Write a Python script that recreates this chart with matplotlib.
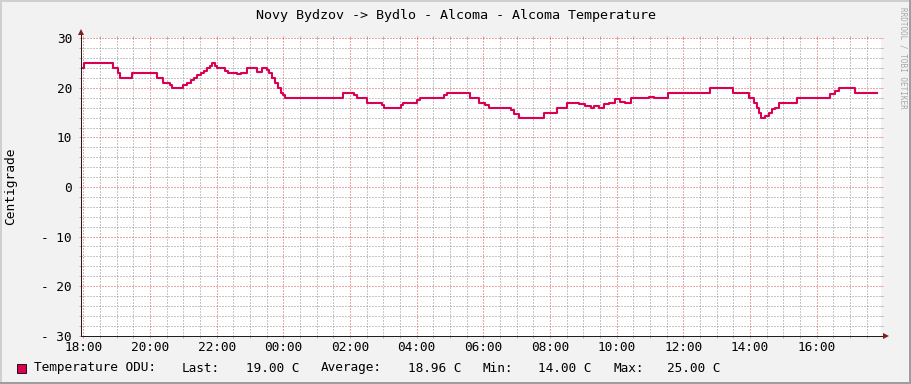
import matplotlib
matplotlib.use('Agg')
import matplotlib.pyplot as plt
from matplotlib.patches import Rectangle
from matplotlib.ticker import MultipleLocator, FixedLocator

# step changes of the temperature, hours after 18:00 -> value in C
hours = [-0.06, 0.02, 0.90, 1.04, 1.10, 1.46, 2.22, 2.39, 2.59, 2.67,
         2.99, 3.12, 3.24, 3.32, 3.42, 3.52, 3.62, 3.72, 3.80, 3.86,
         3.94, 4.00, 4.24, 4.34, 4.62, 4.74, 4.92, 5.20, 5.36, 5.52,
         5.58, 5.66, 5.76, 5.84, 5.92, 5.98, 6.06, 7.80, 8.12, 8.20,
         8.52, 8.96, 9.02, 9.52, 9.60, 10.02, 10.10, 10.82, 10.90, 11.60,
         11.86, 12.04, 12.16, 12.82, 12.92, 13.06, 13.82, 14.22, 14.52, 14.86,
         15.06, 15.22, 15.32, 15.46, 15.62, 15.76, 15.96, 16.10, 16.26, 16.42,
         16.96, 17.12, 17.54, 18.80, 19.50, 19.96, 20.12, 20.20, 20.26, 20.32,
         20.46, 20.56, 20.66, 20.76, 20.86, 21.40, 22.40, 22.56, 22.66, 23.16,
         23.80]
temps = [24, 25, 24, 23, 22, 23, 22, 21, 20.5, 20,
         20.5, 21, 21.5, 22, 22.5, 23, 23.5, 24, 24.5, 25,
         24.5, 24, 23.5, 23, 22.7, 23, 24, 23.3, 24, 23.7,
         23, 22, 21, 20, 19, 18.5, 18, 19, 18.5, 18,
         17, 16.5, 16, 16.5, 17, 17.5, 18, 18.5, 19, 18,
         17, 16.6, 16, 15.5, 14.7, 14, 15, 16, 17, 16.7,
         16.3, 16, 16.3, 16, 16.7, 17, 17.8, 17.2, 17, 18,
         18.2, 18, 19, 20, 19, 18, 17, 16, 15, 14,
         14.3, 15, 15.7, 16, 17, 18, 18.7, 19.3, 20, 19,
         19]

x_ticks = [0, 2, 4, 6, 8, 10, 12, 14, 16, 18, 20, 22]
x_labels = ['18:00', '20:00', '22:00', '00:00', '02:00', '04:00',
            '06:00', '08:00', '10:00', '12:00', '14:00', '16:00']
y_ticks = [30, 20, 10, 0, -10, -20, -30]
y_labels = ['30', '20', '10', '0', '- 10', '- 20', '- 30']

series_name = 'Temperature ODU:'
last_val, avg_val, min_val, max_val = 19.00, 18.96, 14.00, 25.00

# rrdtool default colours
BACK = (0.95, 0.95, 0.95)
SHADEA = (0.81, 0.81, 0.81)
SHADEB = (0.62, 0.62, 0.62)
GRID = (0.56, 0.56, 0.56, 0.65)
MGRID = (0.87, 0.31, 0.31, 0.55)
ARROW = (0.50, 0.12, 0.12)
AXIS = (0.12, 0.12, 0.12)
LINE = '#DC0052'
FONT = 'DejaVu Sans Mono'

W, H = 911, 384
fig = plt.figure(figsize=(W / 100, H / 100), dpi=100, facecolor=BACK)

# plot area in pixels: x 81..881, y 38..336
left, right, top, bottom = 81, 881, 38.3, 335.7
ax = fig.add_axes([left / W, 1 - bottom / H, (right - left) / W, (bottom - top) / H])
ax.set_facecolor('white')

ax.step(hours, temps, where='post', color=LINE, linewidth=1.5, zorder=3)

ax.set_xlim(-0.069, 23.93)
ax.set_ylim(-30, 30)

ax.xaxis.set_major_locator(FixedLocator(x_ticks))
ax.xaxis.set_minor_locator(MultipleLocator(0.5))
ax.set_xticklabels(x_labels, fontfamily=FONT, fontsize=9.2)
ax.yaxis.set_major_locator(FixedLocator(y_ticks))
ax.yaxis.set_minor_locator(MultipleLocator(2))
ax.set_yticklabels(y_labels, fontfamily=FONT, fontsize=9.2)

# dotted 1px grid
ax.grid(which='minor', color=GRID, linestyle=(0, (1, 2)), linewidth=0.72)
ax.grid(which='major', color=MGRID, linestyle=(0, (1, 2)), linewidth=0.72)
ax.set_axisbelow(True)

ax.tick_params(which='both', direction='out', top=True, right=True,
               labeltop=False, labelright=False, width=0.72)
ax.tick_params(which='major', length=1.5, color=MGRID)
ax.tick_params(which='minor', length=1.5, color=GRID)
ax.tick_params(axis='x', which='major', pad=2.5)
ax.tick_params(axis='y', which='major', pad=5)

for s in ['top', 'right']:
    ax.spines[s].set_visible(False)
for s in ['left', 'bottom']:
    ax.spines[s].set_color(AXIS)
    ax.spines[s].set_linewidth(0.72)
    ax.spines[s].set_zorder(4)

# axis extensions with arrow heads
ph, pw = bottom - top, right - left
ax.plot([0, 0], [1, 1 + 5 / ph], color=AXIS, lw=0.72, transform=ax.transAxes, clip_on=False)
ax.plot([1, 1 + 3 / pw], [0, 0], color=AXIS, lw=0.72, transform=ax.transAxes, clip_on=False)
ax.plot([0], [1 + 6.5 / ph], marker='^', ms=4, color=ARROW, mew=0,
        transform=ax.transAxes, clip_on=False)
ax.plot([1 + 4.5 / pw], [0], marker='>', ms=4, color=ARROW, mew=0,
        transform=ax.transAxes, clip_on=False)

fig.text(0.5, 1 - 15 / H, 'Novy Bydzov -> Bydlo - Alcoma - Alcoma Temperature',
         ha='center', va='center', fontfamily=FONT, fontsize=9.6)
fig.text(11 / W, 1 - 186 / H, 'Centigrade', rotation=90, ha='center', va='center',
         fontfamily=FONT, fontsize=9.3)
fig.text(903 / W, 1 - 58 / H, 'RRDTOOL / TOBI OETIKER', rotation=270,
         ha='center', va='center', fontfamily=FONT, fontsize=5.5, color='#A8A8A8')

# legend line
ly = 1 - 368 / H
fig.add_artist(Rectangle((17 / W, 1 - 372.5 / H), 9 / W, 9 / H, transform=fig.transFigure,
                         facecolor=LINE, edgecolor='black', linewidth=0.6))
legend_parts = [(series_name, 34), ('Last:', 182), (f'{last_val:.2f} C', 246),
                ('Average:', 321), (f'{avg_val:.2f} C', 408), ('Min:', 482),
                (f'{min_val:.2f} C', 538), ('Max:', 613), (f'{max_val:.2f} C', 667)]
for txt, px in legend_parts:
    fig.text(px / W, ly, txt, ha='left', va='center', fontfamily=FONT, fontsize=9.2)

# 3d frame of the canvas
fig.add_artist(Rectangle((0, 0), 2 / W, 1, transform=fig.transFigure, color=SHADEA, lw=0))
fig.add_artist(Rectangle((0, 1 - 2 / H), 1, 2 / H, transform=fig.transFigure, color=SHADEA, lw=0))
fig.add_artist(Rectangle((1 - 2 / W, 0), 2 / W, 1, transform=fig.transFigure, color=SHADEB, lw=0))
fig.add_artist(Rectangle((0, 0), 1, 2 / H, transform=fig.transFigure, color=SHADEB, lw=0))

fig.savefig('out.png', dpi=100, facecolor=BACK)
